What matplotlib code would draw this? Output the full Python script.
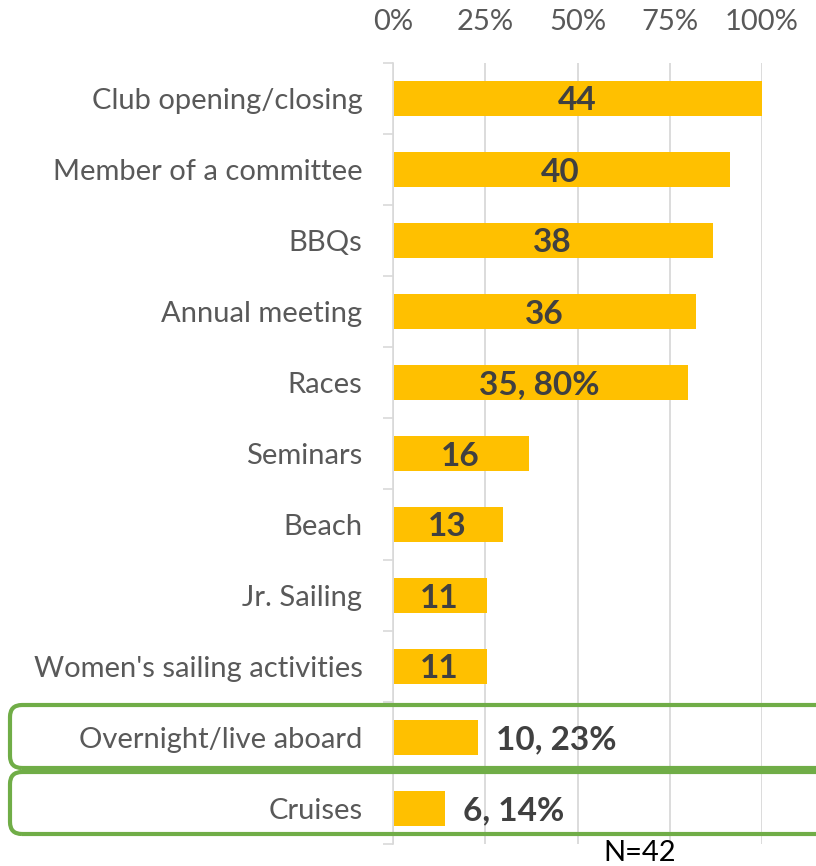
import numpy as np
import matplotlib.pyplot as plt
from matplotlib.patches import FancyBboxPatch
from matplotlib.ticker import FixedLocator

# data (share of respondents, count shown on each bar)
activities = ['Club opening/closing', 'Member of a committee', 'BBQs', 'Annual meeting',
              'Races', 'Seminars', 'Beach', 'Jr. Sailing', "Women's sailing activities",
              'Overnight/live aboard', 'Cruises']
counts = [44, 40, 38, 36, 35, 16, 13, 11, 11, 10, 6]
shares = [100, 90.9, 86.4, 81.8, 79.5, 36.4, 29.5, 25.0, 25.0, 22.7, 13.6]
bar_labels = ['44', '40', '38', '36', '35, 80%', '16', '13', '11', '11', '10, 23%', '6, 14%']
outside = [False] * 9 + [True, True]
x_ticks = [0, 25, 50, 75, 100]
note = 'N=42'

plt.rcParams['font.family'] = ['Lato', 'DejaVu Sans']

W, H = 816, 866
fig = plt.figure(figsize=(W / 100, H / 100), dpi=100)
ax = fig.add_axes([393 / W, (H - 844) / H, (762 - 393) / W, (844 - 63) / H])

y = np.arange(len(activities))
ax.barh(y, shares, height=0.5, left=0.4, color='#FFC000', zorder=3)

for yi, s, lab, out in zip(y, shares, bar_labels, outside):
    if out:
        ax.annotate(lab, (s, yi), xytext=(14, 0), textcoords='offset points',
                    ha='left', va='center_baseline', fontsize=24, fontweight='bold',
                    color='#404040', zorder=4)
    else:
        ax.text(s / 2, yi, lab, ha='center', va='center_baseline', fontsize=24,
                fontweight='bold', color='#404040', zorder=4)

ax.set_ylim(len(activities) - 0.5, -0.5)
ax.set_xlim(0, 100)
ax.set_yticks(y)
ax.set_yticklabels(activities, fontsize=21, color='#595959', va='center_baseline')
ax.tick_params(axis='y', length=0, pad=22)
ax.yaxis.set_minor_locator(FixedLocator(np.arange(-0.5, len(activities) + 0.5, 1)))
ax.tick_params(axis='y', which='minor', length=7, color='#D9D9D9', width=1.2)

ax.set_xticks(x_ticks)
ax.set_xticklabels([f'{t}%' for t in x_ticks], fontsize=21, color='#595959')
ax.xaxis.tick_top()
ax.tick_params(axis='x', length=0, pad=20)
ax.grid(axis='x', color='#D9D9D9', linewidth=1.3, zorder=0)
ax.set_axisbelow(True)

for side in ['top', 'right', 'bottom']:
    ax.spines[side].set_visible(False)
ax.spines['left'].set_color('#D9D9D9')
ax.spines['left'].set_linewidth(1.2)

# green highlight boxes around the last two rows (pixel coordinates)
for top, bot in [(705, 768), (772, 834)]:
    box = FancyBboxPatch((10, H - bot), 840, bot - top,
                         boxstyle='round,pad=0,rounding_size=12',
                         fill=False, edgecolor='#70AD47', linewidth=3,
                         transform=None, zorder=5)
    fig.patches.append(box)

fig.text(640 / W, (H - 853) / H, note, ha='center', va='center', fontsize=21, color='black')

fig.savefig('out.png', dpi=100)
